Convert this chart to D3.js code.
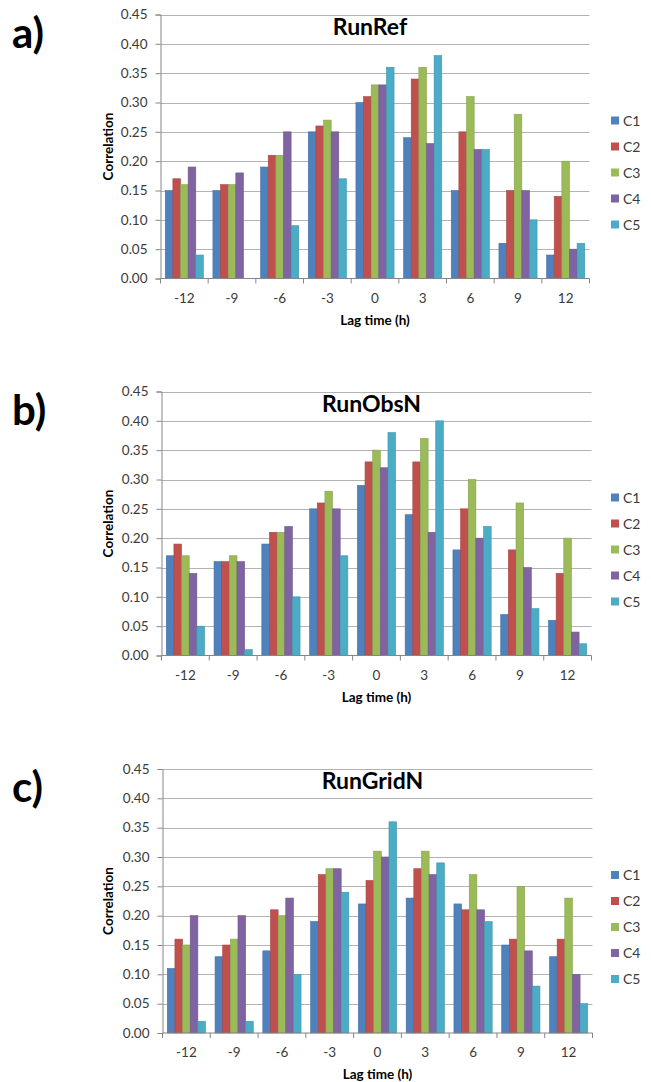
<!DOCTYPE html>
<html>
<head>
<meta charset="utf-8">
<script src="https://cdn.jsdelivr.net/npm/d3@7/dist/d3.min.js"></script>
<style>
  body { margin: 0; background: #fff; }
  text { font-family: Lato, "Open Sans", sans-serif; }
</style>
</head>
<body>
<svg id="fig" width="651" height="1082"></svg>
<script>
// DATA
const lags = [-12, -9, -6, -3, 0, 3, 6, 9, 12];
const seriesNames = ["C1", "C2", "C3", "C4", "C5"];
const colors = ["#4F81BD", "#C0504D", "#9BBB59", "#8064A2", "#4BACC6"];
const yTicks = [0, 0.05, 0.1, 0.15, 0.2, 0.25, 0.3, 0.35, 0.4, 0.45];

// one row per series, C1..C5
const runRef = [
  [0.15, 0.15, 0.19, 0.25, 0.30, 0.24, 0.15, 0.06, 0.04],
  [0.17, 0.16, 0.21, 0.26, 0.31, 0.34, 0.25, 0.15, 0.14],
  [0.16, 0.16, 0.21, 0.27, 0.33, 0.36, 0.31, 0.28, 0.20],
  [0.19, 0.18, 0.25, 0.25, 0.33, 0.23, 0.22, 0.15, 0.05],
  [0.04, 0.00, 0.09, 0.17, 0.36, 0.38, 0.22, 0.10, 0.06]
];
const runObsN = [
  [0.17, 0.16, 0.19, 0.25, 0.29, 0.24, 0.18, 0.07, 0.06],
  [0.19, 0.16, 0.21, 0.26, 0.33, 0.33, 0.25, 0.18, 0.14],
  [0.17, 0.17, 0.21, 0.28, 0.35, 0.37, 0.30, 0.26, 0.20],
  [0.14, 0.16, 0.22, 0.25, 0.32, 0.21, 0.20, 0.15, 0.04],
  [0.05, 0.01, 0.10, 0.17, 0.38, 0.40, 0.22, 0.08, 0.02]
];
const runGridN = [
  [0.11, 0.13, 0.14, 0.19, 0.22, 0.23, 0.22, 0.15, 0.13],
  [0.16, 0.15, 0.21, 0.27, 0.26, 0.28, 0.21, 0.16, 0.16],
  [0.15, 0.16, 0.20, 0.28, 0.31, 0.31, 0.27, 0.25, 0.23],
  [0.20, 0.20, 0.23, 0.28, 0.30, 0.27, 0.21, 0.14, 0.10],
  [0.02, 0.02, 0.10, 0.24, 0.36, 0.29, 0.19, 0.08, 0.05]
];

const panels = [
  { letter: "a)", title: "RunRef", values: runRef, top: 14.5, left: 160.5, right: 589.5 },
  { letter: "b)", title: "RunObsN", values: runObsN, top: 391.5, left: 161.5, right: 591.5 },
  { letter: "c)", title: "RunGridN", values: runGridN, top: 769, left: 162.5, right: 592.5 }
];
const plotH = 264;

const svg = d3.select("#fig");

panels.forEach((p) => {
  const g = svg.append("g");
  const bottom = p.top + plotH;

  const y = d3.scaleLinear().domain([0, 0.45]).range([bottom, p.top]);
  const x0 = d3.scaleBand().domain(lags).range([p.left, p.right])
    .paddingInner(0.2).paddingOuter(0.1);
  const x1 = d3.scaleBand().domain(seriesNames).range([0, x0.bandwidth()]);

  // gridlines
  g.append("g")
    .selectAll("line")
    .data(yTicks.slice(1))
    .join("line")
    .attr("x1", p.left).attr("x2", p.right)
    .attr("y1", (d) => Math.round(y(d)) + 0.5).attr("y2", (d) => Math.round(y(d)) + 0.5)
    .attr("stroke", "#b3b3b3").attr("stroke-width", 1);

  // bars
  const rows = lags.map((lag, i) => ({
    lag,
    vals: seriesNames.map((s, k) => ({ s, k, v: p.values[k][i] }))
  }));
  g.append("g")
    .selectAll("g")
    .data(rows)
    .join("g")
    .attr("transform", (d) => `translate(${x0(d.lag)},0)`)
    .selectAll("rect")
    .data((d) => d.vals)
    .join("rect")
    .attr("x", (d) => x1(d.s))
    .attr("y", (d) => y(d.v))
    .attr("width", x1.bandwidth())
    .attr("height", (d) => bottom - y(d.v))
    .attr("fill", (d) => colors[d.k])
    .attr("stroke", (d) => d3.color(colors[d.k]).darker(0.4))
    .attr("stroke-width", 0.6);

  // y axis
  const yAxis = d3.axisLeft(y).tickValues(yTicks).tickFormat(d3.format(".2f"))
    .tickSize(5).tickPadding(8);
  g.append("g")
    .attr("transform", `translate(${p.left},0)`)
    .call(yAxis)
    .call((a) => a.select(".domain").attr("stroke", "#868686"))
    .call((a) => a.selectAll(".tick line").attr("stroke", "#868686"))
    .call((a) => a.selectAll(".tick text")
      .attr("font-size", 13.5).attr("fill", "#3a3a3a")
      .style("font-family", "Lato, sans-serif"));

  // x axis: baseline, boundary ticks, labels
  g.append("line")
    .attr("x1", p.left).attr("x2", p.right)
    .attr("y1", bottom).attr("y2", bottom)
    .attr("stroke", "#868686");
  const step = x0.step();
  g.append("g")
    .selectAll("line")
    .data(d3.range(lags.length + 1))
    .join("line")
    .attr("x1", (i) => p.left + i * step).attr("x2", (i) => p.left + i * step)
    .attr("y1", bottom).attr("y2", bottom + 5)
    .attr("stroke", "#868686");
  g.append("g")
    .selectAll("text")
    .data(lags)
    .join("text")
    .attr("x", (d) => x0(d) + x0.bandwidth() / 2)
    .attr("y", bottom + 24)
    .attr("text-anchor", "middle")
    .attr("font-size", 13.5)
    .attr("fill", "#3a3a3a")
    .text((d) => d);

  g.append("text")
    .attr("x", (p.left + p.right) / 2)
    .attr("y", bottom + 46)
    .attr("text-anchor", "middle")
    .attr("font-size", 13.5)
    .attr("font-weight", "bold")
    .text("Lag time (h)");

  g.append("text")
    .attr("transform", `translate(113,${(p.top + bottom) / 2}) rotate(-90)`)
    .attr("text-anchor", "middle")
    .attr("font-size", 13.5)
    .attr("font-weight", "bold")
    .text("Correlation");

  // title
  g.append("text")
    .attr("x", (p.left + p.right) / 2 - 5)
    .attr("y", p.top + 20)
    .attr("text-anchor", "middle")
    .attr("font-size", 23)
    .attr("font-weight", "bold")
    .text(p.title);

  // panel letter
  g.append("text")
    .attr("x", 12)
    .attr("y", p.top + 33)
    .attr("font-size", 42)
    .attr("font-weight", "bold")
    .text(p.letter);

  // legend
  const lg = g.append("g")
    .selectAll("g")
    .data(seriesNames)
    .join("g")
    .attr("transform", (d, i) => `translate(611,${p.top + 106 + i * 26})`);
  lg.append("rect")
    .attr("x", 0).attr("y", -4).attr("width", 8).attr("height", 8)
    .attr("fill", (d, i) => colors[i]);
  lg.append("text")
    .attr("x", 12).attr("y", 5)
    .attr("font-size", 14)
    .attr("fill", "#3a3a3a")
    .text((d) => d);
});
</script>
</body>
</html>
